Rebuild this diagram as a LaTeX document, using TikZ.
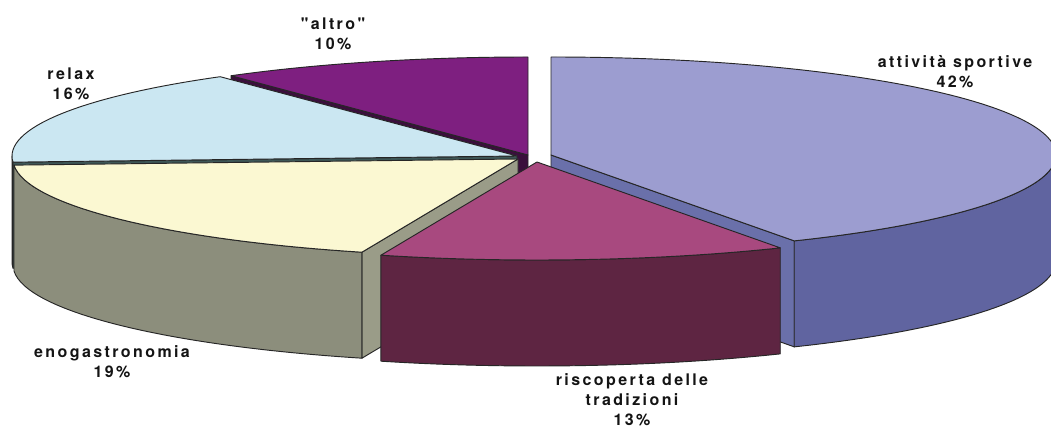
\documentclass[tikz,border=0pt]{standalone}
\usepackage{fontspec}
\setmainfont{Liberation Sans}
\newfontfamily\lblfont{texgyreheros-bold.otf}[LetterSpace=15]
\definecolor{attTop}{HTML}{9C9DD0}
\definecolor{attSide}{HTML}{6064A0}
\definecolor{attRad}{HTML}{6A70AA}
\definecolor{risTop}{HTML}{A8497F}
\definecolor{risSide}{HTML}{5E2542}
\definecolor{enoTop}{HTML}{FBF8D2}
\definecolor{enoSide}{HTML}{8C8E7C}
\definecolor{enoRad}{HTML}{9A9C88}
\definecolor{relTop}{HTML}{CBE7F2}
\definecolor{relRad}{HTML}{3D5656}
\definecolor{altTop}{HTML}{7E1F80}
\definecolor{altRad}{HTML}{3A0F3C}
\begin{document}
\begin{tikzpicture}[x=0.75pt,y=0.75pt,
  edge/.style={draw=black!85, line width=0.7pt, line join=round},
  lbl/.style={font=\fontsize{12pt}{15pt}\selectfont\lblfont, align=center, text=black!92, inner sep=0pt}]
\useasboundingbox (0,0) rectangle (1051,428);
\fill[white] (0,0) rectangle (1051,428);
\clip (0,0) rectangle (1051,428);
% slice centres
\coordinate (C1) at (551,273);
\coordinate (C2) at (537,266);
\coordinate (C3) at (518,269);
\coordinate (C4) at (517,272);
\coordinate (C5) at (528,273);
% ---- altro (back)
\path[edge, fill=altRad] (C5) -- ++(126:505 and 98) -- ++(0,-106) -- ++(-54:505 and 98) -- cycle;
\path[edge, fill=altTop] (C5) -- ++(126:505 and 98) arc[start angle=126, end angle=90, x radius=505, y radius=98] -- cycle;
% ---- relax
\path[edge, fill=relRad] (C4) -- ++(-176.4:505 and 98) -- ++(0,-106) -- ++(3.6:505 and 98) -- cycle;
\path[edge, fill=enoSide] (C4) ++(-176.4:505 and 98) arc[start angle=-176.4, end angle=-180, x radius=505, y radius=98] -- ++(0,-106) arc[start angle=-180, end angle=-176.4, x radius=505, y radius=98] -- cycle;
\path[edge, fill=relTop] (C4) -- ++(-176.4:505 and 98) arc[start angle=-176.4, end angle=-234, x radius=505, y radius=98] -- cycle;
% ---- attivita sportive
\path[edge, fill=attRad] (C1) -- ++(-61.2:505 and 98) -- ++(0,-106) -- ++(118.8:505 and 98) -- cycle;
\path[edge, fill=attSide] (C1) ++(0:505 and 98) arc[start angle=0, end angle=-61.2, x radius=505, y radius=98] -- ++(0,-106) arc[start angle=-61.2, end angle=0, x radius=505, y radius=98] -- cycle;
\path[edge, fill=attTop] (C1) -- ++(90:505 and 98) arc[start angle=90, end angle=-61.2, x radius=505, y radius=98] -- cycle;
% ---- enogastronomia
\path[edge, fill=enoRad] (C3) -- ++(-108:505 and 98) -- ++(0,-106) -- ++(72:505 and 98) -- cycle;
\path[edge, fill=enoSide] (C3) ++(-108:505 and 98) arc[start angle=-108, end angle=-176.4, x radius=505, y radius=98] -- ++(0,-106) arc[start angle=-176.4, end angle=-108, x radius=505, y radius=98] -- cycle;
\path[edge, fill=enoTop] (C3) -- ++(-108:505 and 98) arc[start angle=-108, end angle=-176.4, x radius=505, y radius=98] -- cycle;
% ---- riscoperta delle tradizioni (front)
\path[edge, fill=risSide] (C2) ++(-61.2:505 and 98) arc[start angle=-61.2, end angle=-108, x radius=505, y radius=98] -- ++(0,-106) arc[start angle=-108, end angle=-61.2, x radius=505, y radius=98] -- cycle;
\path[edge, fill=risTop] (C2) -- ++(-61.2:505 and 98) arc[start angle=-61.2, end angle=-108, x radius=505, y radius=98] -- cycle;
% ---- labels
\node[lbl] (latt) at (955,356) {attività sportive\\42\%};
\node[lbl] (lris) at (632,28) {riscoperta delle\\tradizioni\\13\%};
\node[lbl] (leno) at (112,66.5) {enogastronomia\\19\%};
\node[lbl] (lrel) at (71,344.5) {relax\\16\%};
\node[lbl] (lalt) at (333,394) {"altro"\\10\%};
\end{tikzpicture}
\end{document}
